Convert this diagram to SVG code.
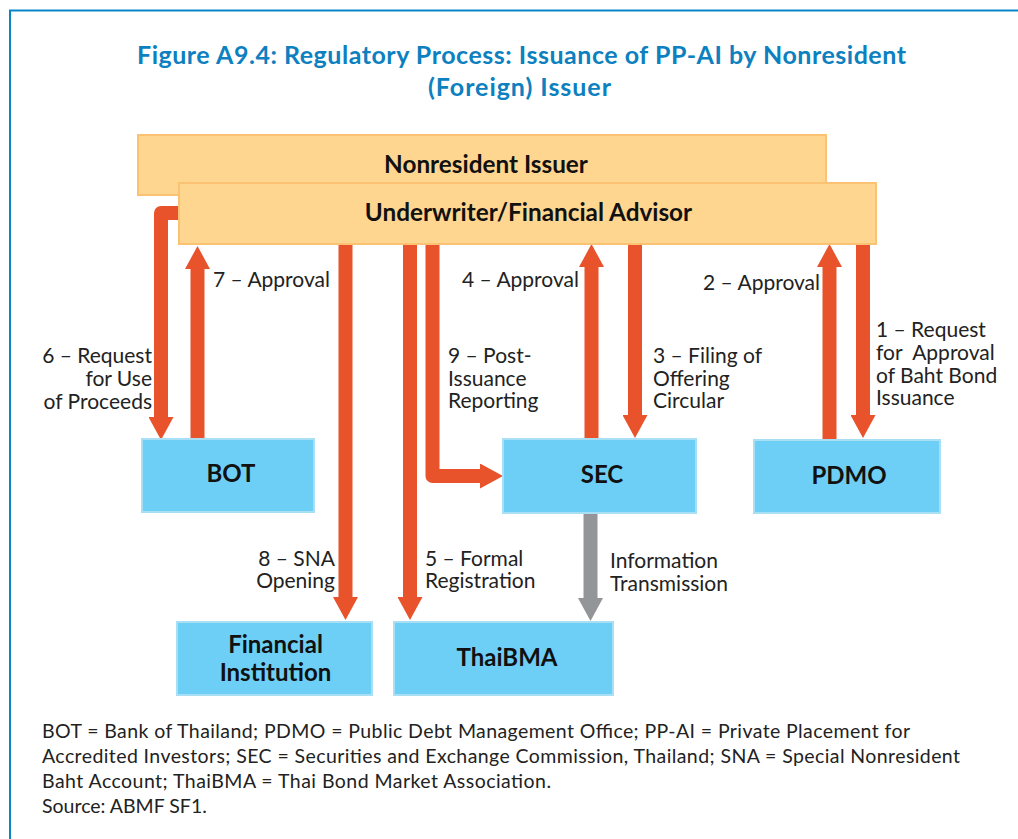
<svg xmlns="http://www.w3.org/2000/svg" width="1018" height="839" viewBox="0 0 1018 839">
<defs>
<style>
.frame{fill:none;stroke:#0A86C8;stroke-width:2}
.title{font-family:Lato,"Liberation Sans",sans-serif;font-weight:bold;font-size:25px;fill:#0D80C0}
.ybox{fill:#FFD68F;stroke:#FBC273;stroke-width:2}
.bbox{fill:#6DCFF6;stroke:#A8DFF5;stroke-width:2}
.ntext{font-family:Lato,"Liberation Sans",sans-serif;font-weight:bold;font-size:24px;fill:#111;text-anchor:middle}
.ytext{font-family:Lato,"Liberation Sans",sans-serif;font-weight:bold;font-size:24.3px;fill:#111;text-anchor:middle}
.lbl{font-family:Lato,"Liberation Sans",sans-serif;font-size:21px;fill:#222}
.r{text-anchor:end}
.note{font-family:Lato,"Liberation Sans",sans-serif;font-size:19.5px;fill:#222}
.arr{fill:none;stroke:#E8532B;stroke-width:14;stroke-linejoin:round}
.garr{fill:none;stroke:#939598;stroke-width:14}
</style>
<marker id="ah" viewBox="0 0 23 25" refX="0" refY="12.5" markerWidth="23" markerHeight="25" markerUnits="userSpaceOnUse" orient="auto"><path d="M0,0 L23,12.5 L0,25 z" fill="#E8532B"/></marker>
<marker id="ahg" viewBox="0 0 23 25" refX="0" refY="12.5" markerWidth="23" markerHeight="25" markerUnits="userSpaceOnUse" orient="auto"><path d="M0,0 L23,12.5 L0,25 z" fill="#939598"/></marker>
</defs>
<rect width="1018" height="839" fill="#fff"/>
<path class="frame" d="M10,839 V10.5 H1018"/>
<text class="title" x="137" y="64" textLength="769" lengthAdjust="spacing">Figure A9.4: Regulatory Process: Issuance of PP-AI by Nonresident</text>
<text class="title" x="428" y="96" textLength="183" lengthAdjust="spacing">(Foreign) Issuer</text>

<g id="connectors">
<path class="arr" d="M181,213 H161 V417" marker-end="url(#ah)"/>
<path class="arr" d="M197.5,439 V269" marker-end="url(#ah)"/>
<path class="arr" d="M345.5,242 V597" marker-end="url(#ah)"/>
<path class="arr" d="M410,242 V597" marker-end="url(#ah)"/>
<path class="arr" d="M432.5,242 V476 H480" marker-end="url(#ah)"/>
<path class="arr" d="M591.5,439 V267" marker-end="url(#ah)"/>
<path class="arr" d="M635,242 V415" marker-end="url(#ah)"/>
<path class="arr" d="M829.5,440 V267" marker-end="url(#ah)"/>
<path class="arr" d="M863,242 V415" marker-end="url(#ah)"/>
<path class="garr" d="M590.5,513 V598" marker-end="url(#ahg)"/>
</g>

<g id="nonresident-issuer">
<rect class="ybox" x="138" y="135" width="688" height="60"/>
<text class="ytext" x="486" y="173">Nonresident Issuer</text>
</g>
<g id="underwriter">
<rect class="ybox" x="179" y="183" width="697" height="61"/>
<text class="ytext" x="528.5" y="221">Underwriter/Financial Advisor</text>
</g>
<g id="bot">
<rect class="bbox" x="142" y="439" width="172" height="73"/>
<text class="ntext" x="231" y="482">BOT</text>
</g>
<g id="sec">
<rect class="bbox" x="503" y="439" width="193" height="74"/>
<text class="ntext" x="602" y="483">SEC</text>
</g>
<g id="pdmo">
<rect class="bbox" x="754" y="440" width="186" height="73"/>
<text class="ntext" x="849" y="484">PDMO</text>
</g>
<g id="financial-institution">
<rect class="bbox" x="177" y="622" width="195" height="73"/>
<text class="ntext"><tspan x="275.5" y="653">Financial</tspan><tspan x="275.5" y="681">Institution</tspan></text>
</g>
<g id="thaibma">
<rect class="bbox" x="394" y="622" width="219" height="73"/>
<text class="ntext" x="507" y="666">ThaiBMA</text>
</g>

<g id="labels">
<text class="lbl" x="213" y="287">7 – Approval</text>
<text class="lbl r"><tspan x="152" y="363">6 – Request</tspan><tspan x="152" y="386">for Use</tspan><tspan x="152" y="409">of Proceeds</tspan></text>
<text class="lbl" x="462" y="287">4 – Approval</text>
<text class="lbl"><tspan x="448" y="363">9 – Post-</tspan><tspan x="448" y="386">Issuance</tspan><tspan x="448" y="408">Reporting</tspan></text>
<text class="lbl"><tspan x="653" y="363">3 – Filing of</tspan><tspan x="653" y="386">Offering</tspan><tspan x="653" y="408">Circular</tspan></text>
<text class="lbl r" x="820" y="290">2 – Approval</text>
<text class="lbl" xml:space="preserve"><tspan x="876" y="337">1 – Request</tspan><tspan x="876" y="360">for  Approval</tspan><tspan x="876" y="383">of Baht Bond</tspan><tspan x="876" y="405">Issuance</tspan></text>
<text class="lbl r"><tspan x="335" y="566">8 – SNA</tspan><tspan x="335" y="588">Opening</tspan></text>
<text class="lbl"><tspan x="425" y="566">5 – Formal</tspan><tspan x="425" y="588">Registration</tspan></text>
<text class="lbl"><tspan x="610" y="568">Information</tspan><tspan x="610" y="591">Transmission</tspan></text>
</g>

<g id="notes">
<text class="note" x="42" y="738" textLength="868" lengthAdjust="spacing">BOT = Bank of Thailand; PDMO = Public Debt Management Office; PP-AI = Private Placement for</text>
<text class="note" x="42" y="763" textLength="918" lengthAdjust="spacing">Accredited Investors; SEC = Securities and Exchange Commission, Thailand; SNA = Special Nonresident</text>
<text class="note" x="42" y="788" textLength="509" lengthAdjust="spacing">Baht Account; ThaiBMA = Thai Bond Market Association.</text>
<text class="note" x="42" y="813">Source: ABMF SF1.</text>
</g>
</svg>
